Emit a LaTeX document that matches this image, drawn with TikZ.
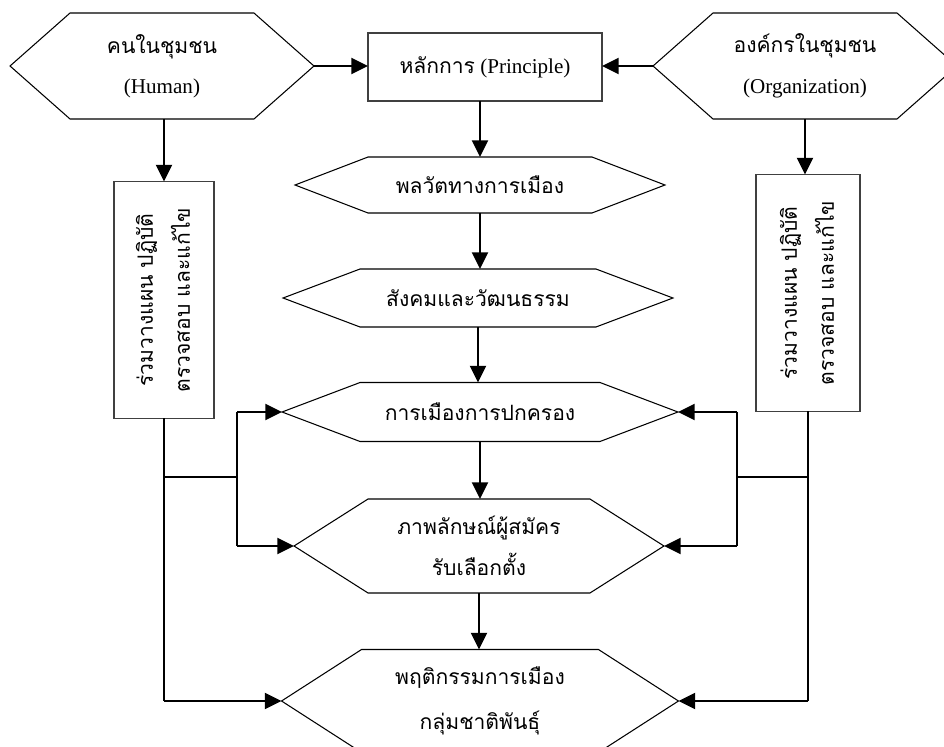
\documentclass[tikz,border=0pt]{standalone}
\usepackage{fontspec}
\setmainfont{Liberation Serif}
\newfontfamily\thaifont[Script=Thai]{Loma}
\usepackage{graphicx}
\usetikzlibrary{arrows.meta}

\newcommand{\thtxt}[1]{{\thaifont #1}}
\newcommand{\sidetext}{\fontsize{12pt}{21pt}\selectfont
  \begin{tabular}{@{}c@{}}\thtxt{ร่วมวางแผน ปฏิบัติ}\\\thtxt{ตรวจสอบ และแก้ไข}\end{tabular}}
\newcommand{\hexframe}[2]{%
  \draw[hexline] (#1.west) -- ([xshift=#2]#1.north west) -- ([xshift=-#2]#1.north east)
    -- (#1.east) -- ([xshift=-#2]#1.south east) -- ([xshift=#2]#1.south west) -- cycle;}

\tikzset{
  hexa/.style={inner sep=0pt, outer sep=0pt, align=center,
    font=\fontsize{12pt}{23pt}\selectfont},
  hexline/.style={line width=0.6pt},
  box/.style={draw=black!75, line width=0.7pt, inner sep=0pt, outer sep=0pt,
    align=center, font=\fontsize{12pt}{23pt}\selectfont},
  conn/.style={line width=1.5pt, -{Triangle[length=9.5pt,width=9pt]}},
  link/.style={line width=0.8pt},
}

\begin{document}
\begin{tikzpicture}[x=0.02cm, y=-0.02cm]

    \clip (0,0) rectangle (944,747);

    % top row
    \node[hexa, minimum width=6.08cm, minimum height=2.12cm] 
        (human) at (162,66) {\thtxt{คนในชุมชน}\\(Human)};
    \hexframe{human}{1.2cm}

    \node[box, minimum width=4.68cm, minimum height=1.36cm] 
        (principle) at (485,67) {\thtxt{หลักการ} (Principle)};

    \node[hexa, minimum width=6.08cm, minimum height=2.12cm] 
        (org) at (805,66) {\thtxt{องค์กรในชุมชน}\\(Organization)};
    \hexframe{org}{1.2cm}

    % middle column
    \node[hexa, minimum width=7.4cm, minimum height=1.12cm] 
        (dynamics) at (480,185) {\thtxt{พลวัตทางการเมือง}};
    \hexframe{dynamics}{1.46cm}

    \node[hexa, minimum width=7.8cm, minimum height=1.16cm] 
        (society) at (478,298) {\thtxt{สังคมและวัฒนธรรม}};
    \hexframe{society}{1.54cm}

    \node[hexa, minimum width=7.92cm, minimum height=1.18cm] 
        (governance) at (480,412) {\thtxt{การเมืองการปกครอง}};
    \hexframe{governance}{1.56cm}

    \node[hexa, minimum width=7.4cm, minimum height=1.88cm] 
        (image) at (479,546) {\thtxt{ภาพลักษณ์ผู้สมัคร}\\\thtxt{รับเลือกตั้ง}};
    \hexframe{image}{1.48cm}

    \node[hexa, minimum width=7.94cm, minimum height=2.06cm,
        font=\fontsize{12pt}{26pt}\selectfont] 
        (behaviour) at (480,701) {\thtxt{พฤติกรรมการเมือง}\\\thtxt{กลุ่มชาติพันธุ์}};
    \hexframe{behaviour}{1.6cm}

    % side boxes
    \node[box, minimum width=2cm, minimum height=4.74cm] 
        (leftplan) at (164,300) {\rotatebox{90}{\sidetext}};
    \node[box, minimum width=2.08cm, minimum height=4.74cm] 
        (rightplan) at (808,293) {\rotatebox{90}{\sidetext}};

    \coordinate (lfork) at (237,477);
    \coordinate (rfork) at (737,477);

    % main flow
    \draw[conn] (human.east) -- (human.east -| principle.west);
    \draw[conn] (org.west) -- (org.west -| principle.east);
    \draw[conn] (principle.south -| dynamics.north) -- (dynamics.north);
    \draw[conn] (dynamics.south) -- (dynamics.south |- society.north);
    \draw[conn] (society.south) -- (society.south |- governance.north);
    \draw[conn] (governance.south) -- (governance.south |- image.north);
    \draw[conn] (image.south) -- (image.south |- behaviour.north);
    \draw[conn] (leftplan.north |- human.south) -- (leftplan.north);
    \draw[conn] (org.south) -- (org.south |- rightplan.north);

    % left feedback
    \draw[link] (leftplan.south) -- (leftplan.south |- behaviour.west);
    \draw[conn] (leftplan.south |- behaviour.west) -- (behaviour.west);
    \draw[link] (leftplan.south |- lfork) -- (lfork);
    \draw[link] (lfork |- governance.west) -- (lfork |- image.west);
    \draw[conn] (lfork |- governance.west) -- (governance.west);
    \draw[conn] (lfork |- image.west) -- (image.west);

    % right feedback
    \draw[link] (rightplan.south) -- (rightplan.south |- behaviour.east);
    \draw[conn] (rightplan.south |- behaviour.east) -- (behaviour.east);
    \draw[link] (rightplan.south |- rfork) -- (rfork);
    \draw[link] (rfork |- governance.east) -- (rfork |- image.east);
    \draw[conn] (rfork |- governance.east) -- (governance.east);
    \draw[conn] (rfork |- image.east) -- (image.east);

\end{tikzpicture}
\end{document}
